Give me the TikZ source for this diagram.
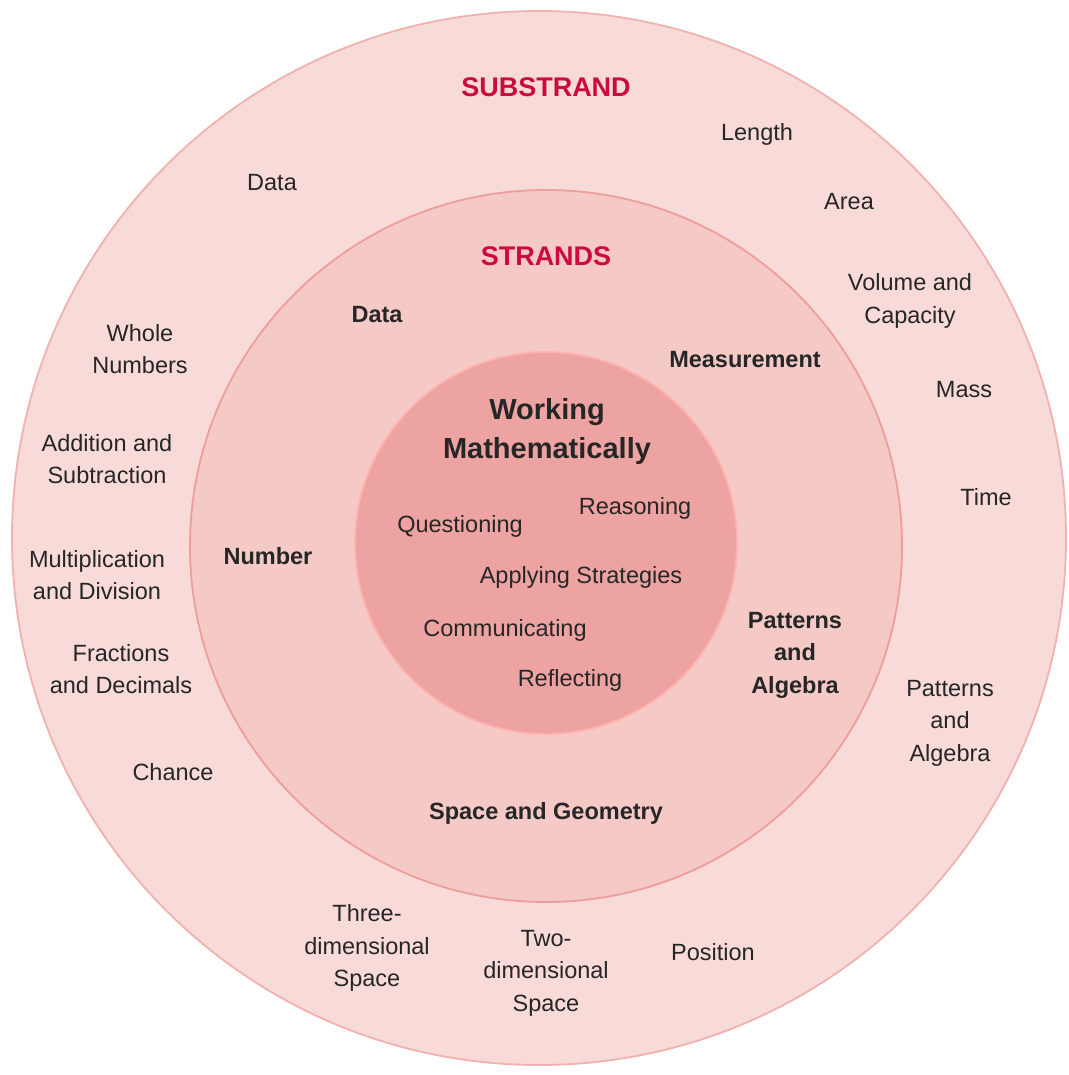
\documentclass[tikz,border=0pt]{standalone}
\usepackage{fontspec}
\setmainfont{Liberation Sans}
\begin{document}
\begin{tikzpicture}[x=1pt,y=-1pt,
  ring/.style={line width=1.8pt},
  lbl/.style={align=center,inner sep=0pt,text=black!85,font=\fontsize{23.5}{32.5}\selectfont},
  strand/.style={lbl,font=\fontsize{23.5}{32.5}\selectfont\bfseries},
  title/.style={inner sep=0pt,text=titlered,font=\fontsize{27}{32}\selectfont\bfseries},
  core/.style={align=center,inner sep=0pt,text=black!85,font=\fontsize{29}{39}\selectfont\bfseries}]
\definecolor{outerfill}{HTML}{F8DAD8}
\definecolor{midfill}{HTML}{F5C9C6}
\definecolor{innerfill}{HTML}{EDA3A1}
\definecolor{ringline}{HTML}{EE9E9A}
\definecolor{titlered}{HTML}{CC0A40}
\useasboundingbox (0,0) rectangle (1068,1075);
\fill[white] (0,0) rectangle (1068,1075);

% three nested rings
\filldraw[ring,fill=outerfill,draw=ringline!80] (539,538) circle (527);
\filldraw[ring,fill=midfill,draw=ringline] (546,546) circle (356);
\filldraw[ring,fill=innerfill,draw=ringline!110!black!95] (546,543) circle (191);

% ring titles
\node[title] (tsub) at (546,87) {SUBSTRAND};
\node[title] (tstr) at (546,256) {STRANDS};

% core
\node[core] (wm) at (547,431) {Working\\Mathematically};
\node[lbl] (rea) at (635,508) {Reasoning};
\node[lbl] (que) at (460,526) {Questioning};
\node[lbl] (app) at (581,577) {Applying Strategies};
\node[lbl] (com) at (505,630) {Communicating};
\node[lbl] (ref) at (570,680) {Reflecting};

% strands
\node[strand] (sdata) at (377,315) {Data};
\node[strand] (smeas) at (745,360) {Measurement};
\node[strand] (snum) at (268,556) {Number};
\node[strand] (spat) at (795,655) {Patterns\\and\\Algebra};
\node[strand] (sspace) at (546,813) {Space and Geometry};

% substrands
\node[lbl] (len) at (757,134) {Length};
\node[lbl] (odata) at (272,183) {Data};
\node[lbl] (area) at (849,202) {Area};
\node[lbl] (vol) at (910,301) {Volume and\\Capacity};
\node[lbl] (whole) at (140,349) {Whole\\Numbers};
\node[lbl] (mass) at (964,390) {Mass};
\node[lbl] (add) at (107,459) {Addition and\\Subtraction};
\node[lbl] (time) at (986,497) {Time};
\node[lbl] (mult) at (97,575) {Multiplication\\and Division};
\node[lbl] (frac) at (121,669) {Fractions\\and Decimals};
\node[lbl] (opat) at (950,723) {Patterns\\and\\Algebra};
\node[lbl] (chance) at (173,772) {Chance};
\node[lbl] (three) at (367,948) {Three-\\dimensional\\Space};
\node[lbl] (two) at (546,973) {Two-\\dimensional\\Space};
\node[lbl] (pos) at (713,952) {Position};
\end{tikzpicture}
\end{document}
